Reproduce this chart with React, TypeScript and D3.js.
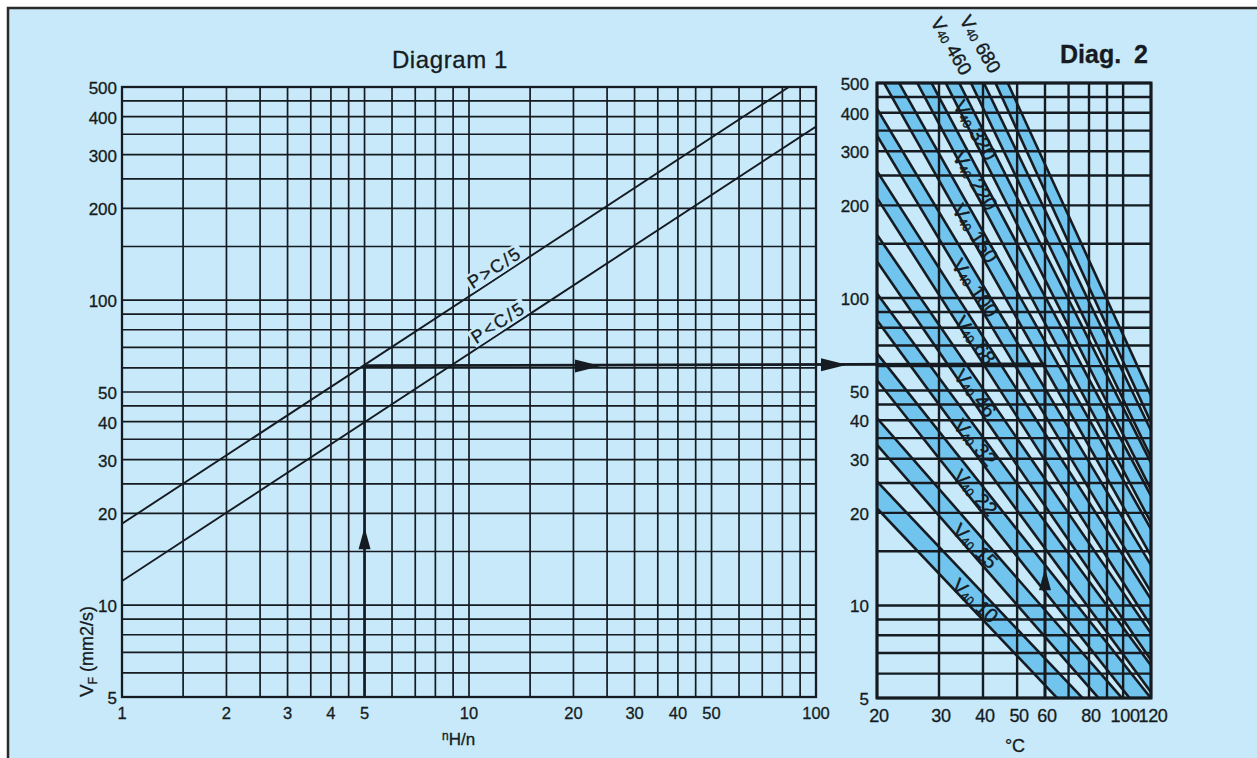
import React, { useRef, useEffect } from "react";
import * as d3 from "d3";

// Diagram 1 grid (nH/n on x, required viscosity on y)
const ratioGrid = [1, 1.5, 2, 2.5, 3, 3.5, 4, 4.5, 5, 6, 7, 8, 9, 10, 15, 20, 25, 30, 35, 40, 45, 50, 60, 70, 80, 90, 100];
const ratioLabels = [1, 2, 3, 4, 5, 10, 20, 30, 40, 50, 100];
const viscGrid = [5, 6, 7, 8, 9, 10, 15, 20, 25, 30, 35, 40, 45, 50, 60, 70, 80, 90, 100, 150, 200, 250, 300, 350, 400, 450, 500];
const viscLabels = [5, 10, 20, 30, 40, 50, 100, 200, 300, 400, 500];

// Diagram 2 grid (temperature on x)
const tempGrid = [20, 30, 40, 50, 60, 70, 80, 90, 100, 120];
const tempLabels = [20, 30, 40, 50, 60, 80, 100, 120];

// P lines: viscosity at nH/n = 1 and at nH/n = 100
const pNames = ["P>C/5", "P<C/5"];
const pAt1 = [18.5, 12];
const pAt100 = [572, 371];
const pLabelAt = [12.3, 12.6];

// ISO VG bands: centre viscosity read at 20 °C and at 100 °C
const grades = [10, 15, 22, 32, 46, 68, 100, 150, 220, 320, 460, 680];
const bandAt20 = [23, 37, 60, 94, 146, 235, 375, 610, 980, 1540, 2400, 3850];
const bandAt100 = [3.3, 4.5, 5.9, 7.7, 10, 13.2, 17.4, 23.3, 30.6, 40, 52, 69];

// worked example
const exampleRatio = 5;
const exampleVisc = 61;
const exampleTemp = 60;

const BG = "#c7e9f9";
const BAND = "#70c4ee";
const INK = "#151b21";
const FONT = "'Liberation Sans', Arial, Helvetica, sans-serif";

const App = () => {
  const ref = useRef<SVGSVGElement>(null);

  useEffect(() => {
    const svg = d3.select(ref.current);
    svg.selectAll("*").remove();

    const x1 = d3.scaleLog().domain([1, 100]).range([122, 816]);
    const y1 = d3.scaleLog().domain([5, 500]).range([697, 87]);
    const x2 = d3.scaleLog().domain([20, 120]).range([877, 1151]);
    const y2 = d3.scaleLog().domain([5, 500]).range([698, 83]);

    // page
    svg.append("rect").attr("width", 1257).attr("height", 758).attr("fill", "#fff");
    svg.append("rect").attr("x", 8).attr("y", 8).attr("width", 1249).attr("height", 750).attr("fill", BG);
    svg.append("path").attr("d", "M8,758V8H1257").attr("fill", "none").attr("stroke", "#2a2a2a").attr("stroke-width", 2.5);

    const defs = svg.append("defs");
    defs.append("clipPath").attr("id", "clip1")
      .append("rect").attr("x", 122).attr("y", 87).attr("width", 816 - 122).attr("height", 697 - 87);
    defs.append("clipPath").attr("id", "clip2")
      .append("rect").attr("x", 877).attr("y", 83).attr("width", 1151 - 877).attr("height", 698 - 83);

    // ---------- Diagram 2 bands ----------
    const bandVal = (i: number, t: number, f: number) => {
      const a = Math.log10(bandAt20[i]);
      const b = Math.log10(bandAt100[i]);
      return f * Math.pow(10, a + ((b - a) * Math.log10(t / 20)) / Math.log10(5));
    };
    const bandG = svg.append("g").attr("clip-path", "url(#clip2)");
    grades.forEach((g, i) => {
      const lo = [20, 120].map((t) => [x2(t), y2(bandVal(i, t, 0.9))]);
      const hi = [20, 120].map((t) => [x2(t), y2(bandVal(i, t, 1.1))]);
      bandG.append("path")
        .attr("d", `M${hi[0]}L${hi[1]}L${lo[1]}L${lo[0]}Z`)
        .attr("fill", BAND);
      [lo, hi].forEach((l) => {
        bandG.append("line")
          .attr("x1", l[0][0]).attr("y1", l[0][1]).attr("x2", l[1][0]).attr("y2", l[1][1])
          .attr("stroke", INK).attr("stroke-width", 2.6);
      });
    });

    // ---------- grids ----------
    const grid = (
      xs: number[], ys: number[],
      sx: d3.ScaleLogarithmic<number, number>, sy: d3.ScaleLogarithmic<number, number>,
      w: number
    ) => {
      const g = svg.append("g").attr("stroke", INK).attr("stroke-width", w);
      const [xa, xb] = sx.range();
      const [ya, yb] = sy.range();
      g.selectAll(".v").data(xs).enter().append("line")
        .attr("x1", (d) => sx(d)).attr("x2", (d) => sx(d)).attr("y1", ya).attr("y2", yb);
      g.selectAll(".h").data(ys).enter().append("line")
        .attr("y1", (d) => sy(d)).attr("y2", (d) => sy(d)).attr("x1", xa).attr("x2", xb);
      g.append("rect").attr("x", xa).attr("y", yb).attr("width", xb - xa).attr("height", ya - yb)
        .attr("fill", "none").attr("stroke-width", w + 0.6);
    };
    grid(ratioGrid, viscGrid, x1, y1, 1.7);
    grid(tempGrid, viscGrid, x2, y2, 2.4);

    // ---------- P lines ----------
    const pG = svg.append("g").attr("clip-path", "url(#clip1)");
    pNames.forEach((name, i) => {
      const slope = Math.log10(pAt100[i] / pAt1[i]) / 2;
      const ax = x1(1), ay = y1(pAt1[i]), bx = x1(100), by = y1(pAt100[i]);
      pG.append("line").attr("x1", ax).attr("y1", ay).attr("x2", bx).attr("y2", by)
        .attr("stroke", INK).attr("stroke-width", 1.9);
      const n = pLabelAt[i];
      const px = x1(n), py = y1(pAt1[i] * Math.pow(n, slope));
      const ang = (Math.atan2(by - ay, bx - ax) * 180) / Math.PI;
      const lg = svg.append("g").attr("transform", `translate(${px},${py}) rotate(${ang})`);
      const bgRect = lg.append("rect").attr("fill", BG);
      const t = lg.append("text").attr("y", -4).attr("text-anchor", "middle")
        .attr("font-family", FONT).attr("font-size", 18).attr("letter-spacing", 2)
        .attr("fill", INK).attr("stroke", INK).attr("stroke-width", 0.3).text(name);
      const bb = (t.node() as SVGTextElement).getBBox();
      bgRect.attr("x", bb.x - 2).attr("y", bb.y + 1).attr("width", bb.width + 4).attr("height", bb.height - 2);
    });

    // ---------- example arrows ----------
    const arrowG = svg.append("g").attr("fill", INK).attr("stroke", INK);
    const vy1 = y1(exampleVisc);
    const vy2 = y2(exampleVisc);
    arrowG.append("line").attr("x1", x1(exampleRatio)).attr("x2", x1(exampleRatio))
      .attr("y1", y1(5)).attr("y2", vy1).attr("stroke-width", 2.6);
    arrowG.append("line").attr("x1", x1(exampleRatio)).attr("y1", vy1)
      .attr("x2", x2(exampleTemp)).attr("y2", vy2).attr("stroke-width", 2.8);
    arrowG.append("line").attr("x1", x2(exampleTemp)).attr("x2", x2(exampleTemp))
      .attr("y1", y2(5)).attr("y2", vy2).attr("stroke-width", 2.8);
    const up = (x: number, tip: number) =>
      arrowG.append("path").attr("stroke", "none")
        .attr("d", `M${x},${tip}L${x - 6},${tip + 22}L${x + 6},${tip + 22}Z`);
    const right = (tip: number, y: number) =>
      arrowG.append("path").attr("stroke", "none")
        .attr("d", `M${tip},${y}L${tip - 26},${y - 6.5}L${tip - 26},${y + 6.5}Z`);
    up(x1(exampleRatio), y1(18));
    up(x2(exampleTemp), y2(13.2));
    right(x1(24), vy1 + 0.4);
    right(x2(20) - 30, vy2 + 0.8);

    // ---------- band labels ----------
    const labT = 38;
    grades.forEach((g, i) => {
      if (g > 320) return;
      const ax = x2(20), ay = y2(bandVal(i, 20, 1)), bx = x2(120), by = y2(bandVal(i, 120, 1));
      const ang = (Math.atan2(by - ay, bx - ax) * 180) / Math.PI - 4;
      const cx = x2(labT), cy = y2(bandVal(i, labT, 1)) + 3;
      const t = svg.append("text")
        .attr("transform", `translate(${cx},${cy}) rotate(${ang})`)
        .attr("text-anchor", "middle").attr("dominant-baseline", "central")
        .attr("font-family", FONT).attr("fill", INK)
        .attr("stroke", INK).attr("stroke-width", 0.4);
      t.append("tspan").attr("font-size", 20).text("V");
      t.append("tspan").attr("font-size", 12).attr("dy", 4).text("40");
      t.append("tspan").attr("font-size", 20).attr("dy", -4).text(" " + g);
    });
    [[942, 15, 460], [971, 13, 680]].forEach(([lx, ly, g]) => {
      const t = svg.append("text")
        .attr("transform", `translate(${lx},${ly}) rotate(60)`)
        .attr("dominant-baseline", "hanging")
        .attr("font-family", FONT).attr("fill", INK)
        .attr("stroke", INK).attr("stroke-width", 0.4);
      t.append("tspan").attr("font-size", 19).text("V");
      t.append("tspan").attr("font-size", 12).attr("dy", 5).text("40");
      t.append("tspan").attr("font-size", 19).attr("dy", -5).text(" " + g);
    });

    // ---------- tick labels ----------
    const txt = (x: number, y: number, s: string, size: number, anchor: string) =>
      svg.append("text").attr("x", x).attr("y", y).attr("text-anchor", anchor)
        .attr("font-family", FONT).attr("font-size", size).attr("fill", INK)
        .attr("stroke", INK).attr("stroke-width", 0.3).text(s);

    viscLabels.forEach((v) => {
      txt(117, y1(v) + 7, String(v), 17, "end");
      txt(869, y2(v) + 7, String(v), 17, "end");
    });
    ratioLabels.forEach((r) => txt(x1(r), 719, String(r), 16.5, "middle"));
    tempLabels.forEach((t) => txt(x2(t) + 2, 722, String(t), 18, "middle").attr("letter-spacing", -0.3));

    // ---------- titles and axis names ----------
    txt(450, 68, "Diagram 1", 24, "middle").attr("letter-spacing", 0.6);
    txt(1060, 63, "Diag.", 25, "start").attr("font-weight", "bold");
    txt(1134, 63, "2", 25, "start").attr("font-weight", "bold");
    txt(1015, 752, "°C", 18, "middle");

    const xl = svg.append("text").attr("x", 442).attr("y", 745)
      .attr("font-family", FONT).attr("fill", INK).attr("stroke", INK).attr("stroke-width", 0.3);
    xl.append("tspan").attr("font-size", 12).attr("dy", -5).text("n");
    xl.append("tspan").attr("font-size", 17).attr("dy", 5).text("H/n");

    const yl = svg.append("text").attr("transform", "translate(93,697) rotate(-90)")
      .attr("font-family", FONT).attr("fill", INK).attr("stroke", INK).attr("stroke-width", 0.3);
    yl.append("tspan").attr("font-size", 19).text("V");
    yl.append("tspan").attr("font-size", 12).attr("dy", 4).text("F");
    yl.append("tspan").attr("font-size", 18).attr("dy", -4).text(" (mm2/s)");
  }, []);

  return (
    <div style={{ position: "absolute", left: 0, top: 0 }}>
      <svg ref={ref} width={1257} height={758} />
    </div>
  );
};

export default App;
